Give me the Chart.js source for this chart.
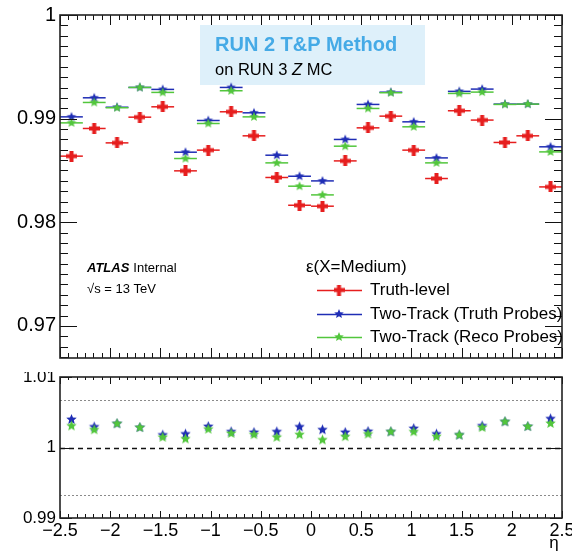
<!DOCTYPE html>
<html><head><meta charset="utf-8">
<script src="https://cdn.jsdelivr.net/npm/chart.js@4"></script>
<style>
html,body{margin:0;padding:0;background:#fff;}
#wrap{position:relative;width:572px;height:553px;overflow:hidden;background:#fff;}
canvas{position:absolute;left:0;}
#top{top:0;}
#bot{top:372px;}
</style></head><body>
<div id="wrap"><canvas id="top" width="572" height="366" style="width:572px;height:366px"></canvas><canvas id="bot" width="572" height="181" style="width:572px;height:181px"></canvas></div>
<script>
// ---------- data ----------
const etaCenters = [-2.386, -2.159, -1.932, -1.705, -1.477, -1.250, -1.023, -0.795, -0.568, -0.341, -0.114,
                     0.114,  0.341,  0.568,  0.795,  1.023,  1.250,  1.477,  1.705,  1.932,  2.159,  2.386];
const binHalfWidth = 0.1136;
const truthLevel = [0.98638, 0.98905, 0.98766, 0.99014, 0.99114, 0.98496, 0.98696, 0.99066, 0.98834, 0.98432, 0.98164,
                    0.98155, 0.98592, 0.98911, 0.99024, 0.98696, 0.98422, 0.99076, 0.98986, 0.98770, 0.98834, 0.98341];
const twoTrackTruthProbes = [0.99017, 0.99201, 0.99110, 0.99301, 0.99282, 0.98676, 0.98982, 0.99301, 0.99056, 0.98647, 0.98444,
                             0.98399, 0.98799, 0.99137, 0.99255, 0.98969, 0.98621, 0.99263, 0.99285, 0.99140, 0.99140, 0.98728];
const twoTrackRecoProbes = [0.98959, 0.99156, 0.99105, 0.99301, 0.99253, 0.98615, 0.98953, 0.99269, 0.99017, 0.98573, 0.98348,
                            0.98264, 0.98734, 0.99098, 0.99250, 0.98921, 0.98573, 0.99243, 0.99256, 0.99137, 0.99140, 0.98679];
const ratioTruthProbes = [1.00398, 1.00292, 1.00338, 1.00283, 1.00177, 1.00191, 1.00297, 1.00223, 1.00214, 1.00223, 1.00292,
                          1.00251, 1.00214, 1.00228, 1.00223, 1.00269, 1.00191, 1.00177, 1.00306, 1.00366, 1.00297, 1.00407];
const ratioRecoProbes = [1.00306, 1.00251, 1.00338, 1.00283, 1.00145, 1.00122, 1.00260, 1.00200, 1.00182, 1.00145, 1.00182,
                         1.00108, 1.00154, 1.00191, 1.00223, 1.00223, 1.00154, 1.00177, 1.00283, 1.00366, 1.00297, 1.00342];
const xTickValues = [-2.5, -2, -1.5, -1, -0.5, 0, 0.5, 1, 1.5, 2, 2.5];
const xTickLabels = ['\u22122.5', '\u22122', '\u22121.5', '\u22121', '\u22120.5', '0', '0.5', '1', '1.5', '2', '2.5'];
const yTopTickValues = [0.97, 0.98, 0.99, 1.0];
const yTopTickLabels = ['0.97', '0.98', '0.99', '1'];
const yRatioTickValues = [0.99, 1.0, 1.01];
const yRatioTickLabels = ['0.99', '1', '1.01'];
const ratioBandLines = [0.9933, 1.0067];
const ratioUnityLine = 1.0;
const seriesNames = ['Truth-level', 'Two-Track (Truth Probes)', 'Two-Track (Reco Probes)'];
const legendHeader = '\u03b5(X=Medium)';

// ---------- styles ----------
const F = "'Liberation Sans', Arial, Helvetica, sans-serif";
const RED = '#e61e1e', BLUE = '#1f2db5', GREEN = '#52c63c';

function makeCross(color, size, t) {
  const c = document.createElement('canvas'); c.width = c.height = size;
  const g = c.getContext('2d'); g.fillStyle = color;
  g.fillRect((size - t) / 2, 0, t, size); g.fillRect(0, (size - t) / 2, size, t);
  return c;
}
function makeStar(color, r) {
  const s = Math.ceil(2 * r + 2), c = document.createElement('canvas'); c.width = c.height = s;
  const g = c.getContext('2d'); g.fillStyle = color; g.beginPath();
  for (let i = 0; i < 10; i++) {
    const rr = i % 2 ? r * 0.45 : r, a = -Math.PI / 2 + i * Math.PI / 5;
    g.lineTo(s / 2 + rr * Math.cos(a), s / 2 + rr * Math.sin(a));
  }
  g.closePath(); g.fill(); return c;
}
const redCross = makeCross(RED, 11, 4);
const blueStar = makeStar(BLUE, 5);
const greenStar = makeStar(GREEN, 5);
const blueStarR = makeStar(BLUE, 5.5);
const greenStarR = makeStar(GREEN, 5.5);

function pts(vals) { return etaCenters.map((x, i) => ({ x: x, y: vals[i] })); }

// ---------- ROOT-like frame plugin ----------
const rootFrame = {
  id: 'rootFrame',
  beforeDatasetsDraw(chart, args, o) {
    const { ctx, chartArea: a, scales: { x, y } } = chart;
    ctx.save();
    ctx.beginPath(); ctx.rect(a.left, a.top, a.right - a.left, a.bottom - a.top); ctx.clip();
    (o.refLines || []).forEach(r => {
      ctx.setLineDash(r.dash); ctx.strokeStyle = r.color; ctx.lineWidth = r.width;
      const py = Math.round(y.getPixelForValue(r.value)) + 0.5;
      ctx.beginPath(); ctx.moveTo(a.left, py); ctx.lineTo(a.right, py); ctx.stroke();
    });
    ctx.setLineDash([]);
    if (o.errorBars) {
      const metas = chart.getSortedVisibleDatasetMetas().slice().reverse();
      metas.forEach(meta => {
        const ds = chart.data.datasets[meta.index];
        ctx.strokeStyle = ds.borderColor; ctx.lineWidth = 1.5;
        ds.data.forEach(p => {
          const x0 = x.getPixelForValue(p.x - o.halfWidth), x1 = x.getPixelForValue(p.x + o.halfWidth);
          const py = y.getPixelForValue(p.y);
          ctx.beginPath(); ctx.moveTo(x0, py); ctx.lineTo(x1, py); ctx.stroke();
        });
      });
    }
    ctx.restore();
    if (o.box) {
      ctx.save();
      ctx.fillStyle = '#def0fa'; ctx.fillRect(200, 25, 225, 60);
      ctx.textBaseline = 'middle'; ctx.textAlign = 'left';
      ctx.font = `bold 20px ${F}`; ctx.fillStyle = '#45aae6';
      ctx.fillText('RUN 2 T&P Method', 215, 45);
      ctx.fillStyle = '#000'; ctx.font = `16.5px ${F}`;
      let xx = 215; const t1 = 'on RUN 3 ';
      ctx.fillText(t1, xx, 70); xx += ctx.measureText(t1).width;
      ctx.font = `italic 16.5px ${F}`; ctx.fillText('Z', xx, 70); xx += ctx.measureText('Z').width;
      ctx.font = `16.5px ${F}`; ctx.fillText(' MC', xx, 70);
      ctx.restore();
    }
  },
  afterDraw(chart, args, o) {
    const { ctx, chartArea: a, scales: { x, y } } = chart;
    ctx.save();
    ctx.strokeStyle = '#111'; ctx.lineWidth = 1;
    const nx = Math.round((x.max - x.min) / o.xMinor);
    for (let i = 0; i <= nx; i++) {
      const px = Math.round(x.getPixelForValue(x.min + i * o.xMinor)) + 0.5;
      const maj = i % o.xPer === 0;
      const lb = maj ? o.xMajB : o.xMinB, lt = maj ? o.xMajT : o.xMinT;
      ctx.beginPath();
      ctx.moveTo(px, a.bottom); ctx.lineTo(px, a.bottom - lb);
      ctx.moveTo(px, a.top); ctx.lineTo(px, a.top + lt);
      ctx.stroke();
    }
    const ny = Math.round((o.yEnd - o.yStart) / o.yMinor);
    for (let i = 0; i <= ny; i++) {
      const v = o.yStart + i * o.yMinor;
      if (v < y.min - 1e-9 || v > y.max + 1e-9) continue;
      const q = v / o.yMajor, maj = Math.abs(q - Math.round(q)) < 1e-6;
      if (!maj && !o.yMinLen) continue;
      const len = maj ? o.yMajLen : o.yMinLen;
      const py = Math.round(y.getPixelForValue(v)) + 0.5;
      ctx.beginPath();
      ctx.moveTo(a.left, py); ctx.lineTo(a.left + len, py);
      ctx.moveTo(a.right, py); ctx.lineTo(a.right - len, py);
      ctx.stroke();
    }
    ctx.lineWidth = 1.6; ctx.strokeStyle = '#222';
    ctx.strokeRect(a.left, a.top, a.right - a.left, a.bottom - a.top);
    ctx.restore();

    if (o.legend) {
      ctx.save();
      ctx.fillStyle = '#000'; ctx.textBaseline = 'middle'; ctx.textAlign = 'left';
      ctx.font = `italic bold 13px ${F}`;
      ctx.fillText('ATLAS', 87, 268);
      const w = ctx.measureText('ATLAS').width;
      ctx.font = `13px ${F}`;
      ctx.fillText('Internal', 87 + w + 4, 268);
      ctx.fillText('\u221As = 13 TeV', 87, 289);
      ctx.font = `17px ${F}`;
      ctx.fillText(legendHeader, 306, 267);
      const rowsY = [290, 314, 337];
      seriesNames.forEach((name, i) => {
        const ds = chart.data.datasets.find(d => d.label === name);
        const yy = rowsY[i];
        ctx.strokeStyle = ds.borderColor; ctx.lineWidth = 1.5;
        ctx.beginPath(); ctx.moveTo(317, yy + 0.5); ctx.lineTo(362, yy + 0.5); ctx.stroke();
        const img = ds.pointStyle;
        ctx.drawImage(img, 339 - img.width / 2, yy - img.height / 2);
        ctx.fillStyle = '#000';
        ctx.fillText(name, 370, yy);
      });
      ctx.restore();
    }
    if (o.etaLabel) {
      ctx.save();
      ctx.fillStyle = '#000'; ctx.textBaseline = 'alphabetic'; ctx.textAlign = 'center';
      ctx.font = `17px ${F}`;
      ctx.fillText('\u03b7', 554, 176);
      ctx.restore();
    }
  }
};

const common = {
  responsive: false, animation: false, devicePixelRatio: 1,
  plugins: { legend: { display: false }, tooltip: { enabled: false } }
};

// ---------- top panel ----------
new Chart(document.getElementById('top'), {
  type: 'scatter',
  data: {
    datasets: [
      { label: seriesNames[0], data: pts(truthLevel), borderColor: RED, backgroundColor: RED, pointStyle: redCross, order: 2 },
      { label: seriesNames[1], data: pts(twoTrackTruthProbes), borderColor: BLUE, backgroundColor: BLUE, pointStyle: blueStar, order: 1 },
      { label: seriesNames[2], data: pts(twoTrackRecoProbes), borderColor: GREEN, backgroundColor: GREEN, pointStyle: greenStar, order: 0 }
    ]
  },
  options: Object.assign({}, common, {
    layout: { padding: { left: 0, top: 15, right: 10, bottom: 8 } },
    plugins: Object.assign({}, common.plugins, {
      rootFrame: { errorBars: true, halfWidth: binHalfWidth, box: true, legend: true,
        xMinor: 0.5 / 6, xPer: 6, xMajB: 10, xMinB: 5, xMajT: 10, xMinT: 5,
        yStart: 0.966, yEnd: 1.0, yMinor: 0.001, yMajor: 0.01, yMajLen: 17, yMinLen: 8 }
    }),
    scales: {
      x: { type: 'linear', min: -2.5, max: 2.5, display: false },
      y: {
        type: 'linear', min: 0.9669, max: 1.0,
        afterBuildTicks: s => { s.ticks = yTopTickValues.map(v => ({ value: v })); },
        afterFit: s => { s.width = 60; s.paddingTop = 0; s.paddingBottom = 0; },
        grid: { display: false, drawTicks: false, tickLength: 0 }, border: { display: false },
        ticks: { callback: (v, i) => yTopTickLabels[i], font: { size: 20, family: F }, color: '#000', padding: 4 }
      }
    }
  }),
  plugins: [rootFrame]
});

// ---------- ratio panel ----------
new Chart(document.getElementById('bot'), {
  type: 'scatter',
  data: {
    datasets: [
      { label: 'ratio ' + seriesNames[1], data: pts(ratioTruthProbes), borderColor: BLUE, backgroundColor: BLUE, pointStyle: blueStarR, order: 1 },
      { label: 'ratio ' + seriesNames[2], data: pts(ratioRecoProbes), borderColor: GREEN, backgroundColor: GREEN, pointStyle: greenStarR, order: 0 }
    ]
  },
  options: Object.assign({}, common, {
    layout: { padding: { left: 0, top: 1, right: 10, bottom: 0 } },
    plugins: Object.assign({}, common.plugins, {
      rootFrame: {
        refLines: [
          { value: ratioBandLines[0], color: '#8a8a8a', width: 1, dash: [2, 2] },
          { value: ratioBandLines[1], color: '#8a8a8a', width: 1, dash: [2, 2] },
          { value: ratioUnityLine, color: '#111', width: 1.3, dash: [5, 4] }
        ],
        etaLabel: true,
        xMinor: 0.5 / 6, xPer: 6, xMajB: 7, xMinB: 4, xMajT: 7, xMinT: 3,
        yStart: 0.99, yEnd: 1.01, yMinor: 0.01, yMajor: 0.01, yMajLen: 12, yMinLen: 0 }
    }),
    scales: {
      x: {
        type: 'linear', min: -2.5, max: 2.5,
        afterBuildTicks: s => { s.ticks = xTickValues.map(v => ({ value: v })); },
        afterFit: s => { s.height = 35; s.paddingLeft = 0; s.paddingRight = 0; },
        grid: { display: false, drawTicks: false, tickLength: 0 }, border: { display: false },
        ticks: { callback: (v, i) => xTickLabels[i], font: { size: 18, family: F }, color: '#000', padding: 2, maxRotation: 0, autoSkip: false }
      },
      y: {
        type: 'linear', min: 0.99, max: 1.01,
        afterBuildTicks: s => { s.ticks = yRatioTickValues.map(v => ({ value: v })); },
        afterFit: s => { s.width = 60; s.paddingTop = 0; s.paddingBottom = 0; },
        grid: { display: false, drawTicks: false, tickLength: 0 }, border: { display: false },
        ticks: { callback: (v, i) => yRatioTickLabels[i], font: { size: 17, family: F }, color: '#000', padding: 4 }
      }
    }
  }),
  plugins: [rootFrame]
});
</script>
</body></html>
